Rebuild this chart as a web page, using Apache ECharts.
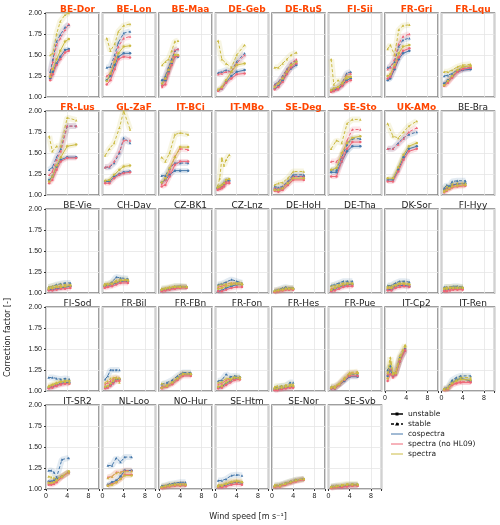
<!DOCTYPE html>
<html>
<head>
<meta charset="utf-8">
<script src="https://cdn.jsdelivr.net/npm/echarts@6/dist/echarts.min.js"></script>
<style>html,body{margin:0;padding:0;background:#fff}#chart{width:500px;height:525px}</style>
</head>
<body>
<div id="chart"></div>
<script>
const sites = ["BE-Dor","BE-Lon","BE-Maa","DE-Geb","DE-RuS","FI-Sii","FR-Gri","FR-Lqu",
  "FR-Lus","GL-ZaF","IT-BCi","IT-MBo","SE-Deg","SE-Sto","UK-AMo","BE-Bra",
  "BE-Vie","CH-Dav","CZ-BK1","CZ-Lnz","DE-HoH","DE-Tha","DK-Sor","FI-Hyy",
  "FI-Sod","FR-Bil","FR-FBn","FR-Fon","FR-Hes","FR-Pue","IT-Cp2","IT-Ren",
  "IT-SR2","NL-Loo","NO-Hur","SE-Htm","SE-Nor","SE-Svb"];
const highlighted = ["BE-Dor","BE-Lon","BE-Maa","DE-Geb","DE-RuS","FI-Sii","FR-Gri","FR-Lqu",
  "FR-Lus","GL-ZaF","IT-BCi","IT-MBo","SE-Deg","SE-Sto","UK-AMo"];
const yTicks = [1.0, 1.25, 1.5, 1.75, 2.0];
const xTicks = [0, 4, 8];

// wind speed bins per site
const windBins = [
  [0.8,1.3,2,2.7,3.6,4.3],[0.8,1.5,2.3,3,4,5.2],[0.6,1.2,1.8,2.4,3,3.6],[0.5,1.2,2,3,4,5.5],
  [0.5,1.2,2,2.8,3.6,4.6],[0.5,1,1.8,2.6,3.4,4.2],[0.5,1,1.8,2.6,3.4,4.6],[0.5,1.2,2,3,4,5.5],
  [0.6,1.2,2,2.8,4,5.7],[0.5,1.3,2.2,3.2,4,5.2],[0.5,1.2,2,3,4,5.5],[0.4,0.8,1.2,1.6,2,2.6],
  [0.5,1.2,2,3,4,6],[0.5,1.5,2.5,3.5,4.5,6],[0.5,1.5,2.5,3.5,4.5,6],[0.5,1,1.5,2,3,4.5],
  [0.5,1.2,2,2.8,3.6,4.6],[0.4,1,1.8,2.6,3.4,4.8],[0.5,1.2,2,3,4,5.2],[0.5,1.2,2,3,4,5],
  [0.5,1.2,2,2.6,3.2,4],[0.5,1.2,2,2.8,3.6,4.5],[0.5,1.2,2,2.8,3.6,4.6],[0.5,1,1.6,2.2,3,4],
  [0.5,1.2,2,2.8,3.6,4.4],[0.5,1,1.5,2,2.6,3.2],[0.5,1.5,2.5,3.5,4.5,6],[0.5,1.2,2,2.8,3.6,4.6],
  [0.5,1,1.8,2.6,3.4,4],[0.5,1.2,2,3,4,5.5],[0.5,1,1.5,2,2.8,3.8],[0.5,1.2,2,2.8,3.6,5.5],
  [0.5,1,1.5,2,3,4.3],[1,1.8,2.6,3.4,4.2,5.5],[0.5,1.2,2,3,4,5],[0.5,1.2,2,3,4,5],
  [0.5,1.5,2.5,3.5,4.5,6],[0.5,1.5,2.5,3.5,4.5,5.5]
];

const cospecUnstable = [
  [1.22,1.30,1.40,1.48,1.56,1.57],[1.20,1.25,1.38,1.48,1.52,1.52],[1.20,1.20,1.30,1.40,1.48,1.48],[1.08,1.10,1.18,1.25,1.30,1.32],
  [1.10,1.13,1.20,1.28,1.34,1.38],[1.07,1.08,1.10,1.14,1.20,1.22],[1.20,1.22,1.33,1.45,1.52,1.55],[1.16,1.20,1.24,1.30,1.32,1.33],
  [1.18,1.22,1.34,1.42,1.45,1.45],[1.16,1.16,1.22,1.25,1.27,1.28],[1.15,1.18,1.24,1.29,1.29,1.29],[1.08,1.09,1.10,1.12,1.17,1.17],
  [1.07,1.06,1.08,1.14,1.22,1.22],[1.27,1.27,1.40,1.52,1.58,1.58],[1.18,1.18,1.30,1.45,1.55,1.58],[1.06,1.08,1.10,1.12,1.13,1.14],
  [1.04,1.04,1.05,1.06,1.07,1.08],[1.08,1.09,1.10,1.12,1.14,1.14],[1.03,1.04,1.05,1.06,1.07,1.07],[1.02,1.03,1.06,1.08,1.10,1.10],
  [1.02,1.03,1.04,1.05,1.05,1.05],[1.03,1.05,1.07,1.09,1.10,1.10],[1.04,1.04,1.08,1.09,1.09,1.08],[1.03,1.04,1.05,1.06,1.06,1.06],
  [1.04,1.05,1.07,1.09,1.10,1.10],[1.04,1.05,1.07,1.10,1.14,1.14],[1.04,1.06,1.10,1.15,1.20,1.20],[1.04,1.05,1.09,1.12,1.15,1.16],
  [1.02,1.02,1.03,1.04,1.05,1.05],[1.03,1.03,1.07,1.12,1.17,1.17],[1.18,1.25,1.18,1.20,1.35,1.50],[1.02,1.03,1.10,1.13,1.15,1.12],
  [1.09,1.09,1.10,1.12,1.15,1.20],[1.05,1.08,1.10,1.15,1.22,1.22],[1.02,1.03,1.04,1.05,1.05,1.05],[1.03,1.03,1.05,1.07,1.08,1.07],
  [1.03,1.04,1.06,1.08,1.10,1.12],[1.02,1.03,1.03,1.04,1.05,1.05]
];
const cospecStable = [
  [1.30,1.45,1.66,1.74,1.83,1.86],[1.35,1.36,1.50,1.65,1.76,1.78],[1.15,1.25,1.35,1.45,1.55,1.57],[1.29,1.30,1.32,1.30,1.42,1.52],
  [1.15,1.18,1.25,1.33,1.40,1.43],[1.08,1.10,1.12,1.17,1.28,1.30],[1.35,1.36,1.42,1.60,1.68,1.70],[1.25,1.26,1.28,1.32,1.34,1.35],
  [1.30,1.33,1.45,1.55,1.82,1.82],[1.33,1.33,1.38,1.50,1.68,1.62],[1.23,1.23,1.32,1.38,1.38,1.38],[1.10,1.10,1.12,1.15,1.18,1.18],
  [1.10,1.09,1.10,1.16,1.24,1.24],[1.30,1.30,1.45,1.60,1.67,1.67],[1.55,1.55,1.62,1.68,1.72,1.75],[1.08,1.12,1.10,1.16,1.17,1.17],
  [1.07,1.08,1.10,1.11,1.12,1.12],[1.10,1.10,1.13,1.19,1.18,1.17],[1.05,1.05,1.06,1.08,1.08,1.07],[1.10,1.11,1.13,1.16,1.14,1.12],
  [1.03,1.04,1.06,1.07,1.06,1.06],[1.09,1.10,1.12,1.14,1.14,1.14],[1.09,1.09,1.12,1.14,1.14,1.13],[1.07,1.07,1.07,1.08,1.08,1.07],
  [1.16,1.16,1.15,1.14,1.15,1.14],[1.14,1.18,1.25,1.25,1.25,1.25],[1.08,1.10,1.13,1.18,1.22,1.22],[1.12,1.13,1.20,1.17,1.18,1.17],
  [1.04,1.04,1.06,1.06,1.10,1.10],[1.05,1.05,1.08,1.14,1.20,1.20],[1.25,1.30,1.20,1.22,1.40,1.48],[1.03,1.04,1.13,1.16,1.18,1.18],
  [1.22,1.22,1.20,1.14,1.35,1.37],[1.28,1.28,1.37,1.32,1.38,1.38],[1.04,1.04,1.06,1.07,1.08,1.08],[1.10,1.10,1.12,1.16,1.17,1.16],
  [1.04,1.05,1.07,1.09,1.11,1.12],[1.03,1.04,1.04,1.05,1.05,1.05]
];
const noHlUnstable = [
  [1.20,1.27,1.38,1.45,1.53,1.55],[1.15,1.20,1.33,1.45,1.48,1.47],[1.13,1.15,1.28,1.38,1.48,1.49],[1.07,1.10,1.17,1.22,1.27,1.28],
  [1.09,1.12,1.18,1.27,1.35,1.40],[1.06,1.07,1.09,1.13,1.18,1.20],[1.22,1.24,1.35,1.47,1.55,1.58],[1.13,1.17,1.23,1.30,1.33,1.35],
  [1.14,1.18,1.30,1.40,1.44,1.44],[1.14,1.14,1.20,1.24,1.26,1.27],[1.10,1.12,1.22,1.36,1.40,1.40],[1.06,1.07,1.08,1.10,1.14,1.14],
  [1.05,1.04,1.06,1.12,1.18,1.18],[1.22,1.22,1.40,1.55,1.63,1.63],[1.16,1.16,1.28,1.42,1.52,1.55],[1.03,1.05,1.07,1.09,1.10,1.11],
  [1.03,1.03,1.04,1.05,1.05,1.06],[1.06,1.07,1.08,1.10,1.12,1.12],[1.02,1.03,1.04,1.05,1.06,1.06],[1.02,1.02,1.04,1.06,1.07,1.07],
  [1.01,1.02,1.03,1.04,1.04,1.04],[1.02,1.03,1.05,1.07,1.08,1.08],[1.03,1.03,1.06,1.07,1.08,1.07],[1.02,1.02,1.03,1.04,1.04,1.04],
  [1.03,1.04,1.06,1.08,1.09,1.09],[1.03,1.04,1.06,1.09,1.12,1.12],[1.03,1.05,1.08,1.13,1.18,1.18],[1.03,1.04,1.07,1.10,1.13,1.14],
  [1.01,1.01,1.02,1.03,1.04,1.04],[1.03,1.03,1.07,1.13,1.18,1.18],[1.12,1.20,1.16,1.19,1.35,1.48],[1.01,1.02,1.07,1.09,1.10,1.10],
  [1.05,1.05,1.06,1.08,1.14,1.20],[1.04,1.06,1.08,1.12,1.17,1.17],[1.01,1.02,1.03,1.04,1.04,1.04],[1.02,1.02,1.03,1.05,1.06,1.05],
  [1.02,1.03,1.05,1.07,1.09,1.11],[1.01,1.02,1.02,1.03,1.04,1.04]
];
const noHlStable = [
  [1.26,1.42,1.62,1.70,1.80,1.87],[1.25,1.28,1.45,1.60,1.70,1.72],[1.12,1.22,1.33,1.42,1.56,1.57],[1.27,1.28,1.30,1.30,1.40,1.50],
  [1.14,1.17,1.24,1.32,1.40,1.45],[1.07,1.09,1.11,1.16,1.26,1.28],[1.33,1.35,1.45,1.63,1.72,1.75],[1.14,1.18,1.24,1.30,1.34,1.35],
  [1.24,1.28,1.42,1.52,1.82,1.82],[1.33,1.34,1.40,1.52,1.65,1.65],[1.13,1.18,1.28,1.46,1.55,1.54],[1.08,1.08,1.10,1.12,1.16,1.16],
  [1.08,1.07,1.09,1.15,1.22,1.22],[1.40,1.40,1.45,1.65,1.78,1.78],[1.55,1.55,1.60,1.67,1.75,1.80],[1.05,1.08,1.08,1.11,1.12,1.12],
  [1.05,1.06,1.07,1.08,1.08,1.09],[1.08,1.09,1.11,1.14,1.14,1.14],[1.03,1.04,1.05,1.06,1.07,1.07],[1.07,1.08,1.10,1.12,1.11,1.10],
  [1.02,1.03,1.04,1.05,1.05,1.05],[1.05,1.06,1.08,1.10,1.10,1.10],[1.06,1.06,1.09,1.10,1.10,1.10],[1.04,1.04,1.05,1.05,1.05,1.05],
  [1.04,1.06,1.07,1.08,1.09,1.09],[1.08,1.10,1.12,1.15,1.16,1.15],[1.05,1.07,1.10,1.15,1.20,1.20],[1.08,1.09,1.13,1.14,1.14,1.14],
  [1.02,1.02,1.03,1.04,1.05,1.05],[1.04,1.05,1.08,1.15,1.21,1.22],[1.20,1.26,1.19,1.21,1.38,1.50],[1.02,1.03,1.08,1.10,1.11,1.11],
  [1.08,1.08,1.08,1.10,1.15,1.20],[1.14,1.15,1.20,1.20,1.22,1.22],[1.02,1.03,1.04,1.05,1.06,1.06],[1.04,1.04,1.06,1.08,1.09,1.08],
  [1.03,1.04,1.06,1.08,1.10,1.12],[1.02,1.03,1.03,1.04,1.04,1.04]
];
const spectraUnstable = [
  [1.24,1.33,1.45,1.55,1.66,1.69],[1.19,1.28,1.42,1.52,1.60,1.61],[1.16,1.22,1.32,1.42,1.50,1.50],[1.09,1.12,1.20,1.30,1.38,1.40],
  [1.12,1.16,1.22,1.30,1.38,1.42],[1.08,1.10,1.12,1.16,1.22,1.24],[1.25,1.27,1.38,1.52,1.60,1.62],[1.14,1.19,1.25,1.32,1.36,1.37],
  [1.16,1.22,1.35,1.45,1.58,1.60],[1.17,1.18,1.24,1.30,1.34,1.35],[1.15,1.20,1.32,1.45,1.57,1.57],[1.09,1.10,1.12,1.14,1.18,1.19],
  [1.06,1.06,1.08,1.14,1.20,1.20],[1.30,1.32,1.50,1.62,1.68,1.70],[1.20,1.20,1.33,1.48,1.58,1.62],[1.04,1.06,1.08,1.10,1.11,1.12],
  [1.05,1.06,1.07,1.07,1.08,1.09],[1.09,1.10,1.11,1.13,1.15,1.15],[1.04,1.05,1.06,1.07,1.07,1.07],[1.05,1.06,1.08,1.10,1.11,1.10],
  [1.02,1.03,1.04,1.05,1.05,1.05],[1.04,1.06,1.08,1.10,1.11,1.11],[1.06,1.06,1.09,1.11,1.11,1.10],[1.05,1.05,1.06,1.06,1.06,1.06],
  [1.05,1.07,1.09,1.11,1.12,1.12],[1.05,1.06,1.09,1.12,1.15,1.15],[1.04,1.06,1.10,1.15,1.20,1.20],[1.05,1.06,1.10,1.13,1.16,1.16],
  [1.03,1.03,1.04,1.05,1.06,1.06],[1.04,1.04,1.08,1.14,1.20,1.21],[1.15,1.35,1.20,1.21,1.38,1.53],[1.02,1.03,1.09,1.12,1.14,1.13],
  [1.07,1.07,1.08,1.10,1.15,1.21],[1.04,1.05,1.08,1.12,1.16,1.16],[1.02,1.03,1.04,1.05,1.05,1.05],[1.03,1.04,1.06,1.08,1.09,1.08],
  [1.03,1.04,1.06,1.08,1.10,1.12],[1.02,1.03,1.04,1.05,1.05,1.05]
];
const spectraStable = [
  [1.50,1.52,1.75,1.90,1.98,2.00],[1.70,1.55,1.63,1.78,1.85,1.87],[1.38,1.42,1.45,1.55,1.66,1.67],[1.67,1.45,1.40,1.35,1.50,1.62],
  [1.35,1.35,1.40,1.45,1.50,1.53],[1.45,1.15,1.20,1.17,1.25,1.24],[1.57,1.62,1.50,1.80,1.85,1.86],[1.30,1.30,1.32,1.36,1.38,1.39],
  [1.70,1.52,1.58,1.58,1.92,1.89],[1.47,1.55,1.62,1.80,2.00,1.78],[1.45,1.40,1.50,1.72,1.74,1.72],[1.10,1.20,1.44,1.35,1.42,1.48],
  [1.12,1.14,1.15,1.20,1.28,1.28],[1.55,1.65,1.62,1.85,1.90,1.90],[1.85,1.70,1.68,1.75,1.82,1.88],[1.06,1.10,1.09,1.13,1.14,1.14],
  [1.07,1.08,1.09,1.10,1.10,1.10],[1.11,1.11,1.12,1.15,1.16,1.16],[1.05,1.06,1.07,1.08,1.08,1.08],[1.09,1.10,1.11,1.12,1.12,1.12],
  [1.03,1.04,1.05,1.06,1.06,1.06],[1.08,1.09,1.10,1.12,1.12,1.12],[1.08,1.08,1.10,1.12,1.12,1.11],[1.06,1.07,1.07,1.07,1.07,1.07],
  [1.06,1.08,1.10,1.11,1.11,1.10],[1.10,1.12,1.15,1.16,1.16,1.10],[1.09,1.07,1.11,1.16,1.21,1.21],[1.10,1.11,1.15,1.15,1.16,1.15],
  [1.05,1.06,1.06,1.07,1.08,1.08],[1.05,1.06,1.09,1.16,1.22,1.23],[1.22,1.40,1.22,1.22,1.42,1.55],[1.02,1.04,1.10,1.13,1.16,1.16],
  [1.15,1.14,1.13,1.12,1.15,1.20],[1.13,1.15,1.19,1.20,1.21,1.21],[1.03,1.04,1.05,1.06,1.06,1.06],[1.05,1.05,1.07,1.09,1.10,1.09],
  [1.05,1.05,1.07,1.09,1.11,1.12],[1.03,1.04,1.05,1.06,1.06,1.06]
];

const COLORS = { cospec: "#4477AA", noHl: "#EE6677", spectra: "#CCBB44" };
const lines = [
  { data: cospecUnstable, color: COLORS.cospec, dashed: false },
  { data: cospecStable, color: COLORS.cospec, dashed: true },
  { data: noHlUnstable, color: COLORS.noHl, dashed: false },
  { data: noHlStable, color: COLORS.noHl, dashed: true },
  { data: spectraUnstable, color: COLORS.spectra, dashed: false },
  { data: spectraStable, color: COLORS.spectra, dashed: true },
];

const NCOL = 8, LEFT0 = 46, PITCH_X = 56.5, W = 53, TOP0 = 13, PITCH_Y = 98, H = 84;
const chart = echarts.init(document.getElementById("chart"));
const grid = [], xAxis = [], yAxis = [], series = [], title = [];

sites.forEach((site, i) => {
  const col = i % NCOL, row = Math.floor(i / NCOL);
  const left = LEFT0 + col * PITCH_X, top = TOP0 + row * PITCH_Y;
  const lastInCol = i + NCOL >= sites.length;
  grid.push({ left, top, width: W, height: H, show: true, borderColor: "#808080", borderWidth: 1.5 });
  title.push({
    text: site, left: left + W / 2, top: top - 13, textAlign: "center",
    textStyle: highlighted.includes(site)
      ? { fontSize: 9, fontWeight: "bold", color: "#ff4500", fontFamily: "DejaVu Sans" }
      : { fontSize: 9, fontWeight: "normal", color: "#222", fontFamily: "DejaVu Sans" },
  });
  xAxis.push({
    gridIndex: i, type: "value", min: 0, max: 10, interval: 4,
    axisLine: { show: false }, axisTick: { show: lastInCol, length: 2, lineStyle: { color: "#333" } },
    axisLabel: { show: lastInCol, fontSize: 7, color: "#222", margin: 4,
      formatter: v => (xTicks.includes(v) ? String(v) : "") },
    splitLine: { show: true, lineStyle: { color: "#e6e6e6", width: 0.8 } },
  });
  yAxis.push({
    gridIndex: i, type: "value", min: 1, max: 2, interval: 0.25,
    axisLine: { show: false }, axisTick: { show: col === 0, length: 2, lineStyle: { color: "#333" } },
    axisLabel: { show: col === 0, fontSize: 7, color: "#222", margin: 4,
      formatter: v => (yTicks.includes(v) ? v.toFixed(2) : "") },
    splitLine: { show: true, lineStyle: { color: "#e6e6e6", width: 0.8 } },
  });
  lines.forEach(l => {
    const pts = windBins[i].map((x, k) => [x, l.data[i][k]]);
    // soft band behind each line
    series.push({
      type: "line", xAxisIndex: i, yAxisIndex: i, data: pts, silent: true, showSymbol: false,
      lineStyle: { color: l.color, width: l.dashed ? 6 : 5, opacity: l.dashed ? 0.15 : 0.2 }, z: 1,
    });
    series.push({
      type: "line", xAxisIndex: i, yAxisIndex: i, data: pts, silent: true,
      symbol: l.dashed ? "triangle" : "circle", symbolSize: 2.5,
      itemStyle: { color: l.color },
      lineStyle: { color: l.color, width: 1, type: l.dashed ? [3, 2] : "solid" }, z: 3,
    });
  });
});

// legend and axis titles
const legendItems = [
  { label: "unstable", color: "#000", dash: null, sym: "rect" },
  { label: "stable", color: "#000", dash: [3, 2], sym: "tri" },
  { label: "cospectra", color: COLORS.cospec, dash: null },
  { label: "spectra (no HL09)", color: COLORS.noHl, dash: null },
  { label: "spectra", color: COLORS.spectra, dash: null },
];
const graphic = [
  { type: "text", left: 4, top: 298, rotation: Math.PI / 2,
    style: { text: "Correction factor [-]", fontSize: 8, fill: "#222", fontFamily: "DejaVu Sans", align: "center", verticalAlign: "middle" }, x: 6, y: 258 },
  { type: "text", x: 248, y: 517,
    style: { text: "Wind speed [m s⁻¹]", fontSize: 8, fill: "#222", fontFamily: "DejaVu Sans", align: "center", verticalAlign: "middle" } },
];
legendItems.forEach((it, k) => {
  const y = 414 + k * 10;
  graphic.push({ type: "line", shape: { x1: 391, y1: y, x2: 403, y2: y },
    style: { stroke: it.color, lineWidth: it.sym ? 1.5 : 1, lineDash: it.dash } });
  if (it.sym === "rect") graphic.push({ type: "rect", shape: { x: 395.5, y: y - 1.5, width: 3, height: 3 }, style: { fill: "#000" } });
  if (it.sym === "tri") graphic.push({ type: "polygon", shape: { points: [[397, y - 2], [399, y + 1.5], [395, y + 1.5]] }, style: { fill: "#000" } });
  graphic.push({ type: "text", x: 408, y,
    style: { text: it.label, fontSize: 7.5, fill: "#222", fontFamily: "DejaVu Sans", verticalAlign: "middle" } });
});

chart.setOption({ animation: false, title, grid, xAxis, yAxis, series, graphic });
</script>
</body>
</html>
